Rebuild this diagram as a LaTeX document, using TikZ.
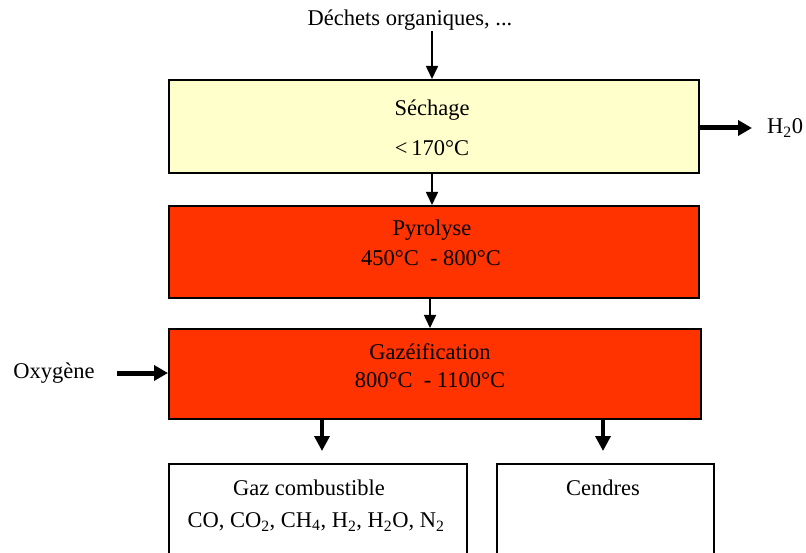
\documentclass[tikz,border=0pt]{standalone}
\usepackage{fontspec}
\setmainfont{Liberation Serif}
\usetikzlibrary{arrows.meta}
\definecolor{dryfill}{HTML}{FFFFCC}
\definecolor{hotfill}{HTML}{FF3300}
\begin{document}
\begin{tikzpicture}[x=1pt,y=-1pt,
  every node/.style={font=\fontsize{22.5}{26}\selectfont, inner sep=0pt},
  stage/.style={draw=black, line width=1.6pt, rectangle, anchor=north west},
  label/.style={anchor=center},
  thin/.style={line width=1.6pt, -{Triangle[width=12pt,length=13pt]}},
  fat/.style={line width=5pt, -{Triangle[width=15pt,length=14pt]}},
  mid/.style={line width=3.5pt, -{Triangle[width=15pt,length=15pt]}}]
  \useasboundingbox (0,0) rectangle (806,553);

  % process stages
  \node[stage, fill=dryfill, minimum width=530pt, minimum height=93pt] (sech) at (168,79) {};
  \node[stage, fill=hotfill, minimum width=530pt, minimum height=92pt] (pyro) at (168,205) {};
  \node[stage, fill=hotfill, minimum width=532pt, minimum height=90pt] (gazf) at (168,328) {};
  \node[stage, fill=white, minimum width=298pt, minimum height=92pt] (gaz) at (168,463) {};
  \node[stage, fill=white, minimum width=217pt, minimum height=90pt] (cend) at (496,463) {};

  % texts
  \node[label] (inT) at (410,20) {Déchets organiques, ...};
  \node[label] (sechA) at (432,110) {Séchage};
  \node[label] (sechB) at (432,148) {<\,170°C};
  \node[label] (pyroA) at (432,230) {Pyrolyse};
  \node[label] (pyroB) at (431,258) {450°C\ \ - 800°C};
  \node[label] (gazfA) at (430,352) {Gazéification};
  \node[label] (gazfB) at (430,380) {800°C\ \ - 1100°C};
  \node[label] (gazA) at (309,488) {Gaz combustible};
  \node[label] (gazB) at (316,522) {CO, CO\textsubscript{2}, CH\textsubscript{4}, H\textsubscript{2}, H\textsubscript{2}O, N\textsubscript{2}};
  \node[label] (cendA) at (603,488) {Cendres};
  \node[label] (oxy) at (54,373) {Oxygène};
  \node[label, anchor=west] (water) at (767,128) {H\textsubscript{2}0};

  % connector end points
  \coordinate (inS) at (432,31);
  \coordinate (s1) at (432,172);
  \coordinate (s2) at (430,297);
  \coordinate (oxS) at (117,373);
  \coordinate (wE) at (752,128);
  \coordinate (outG) at (322,451);
  \coordinate (outC) at (603,451);

  % flows
  \draw[thin] (inS) -- (inS |- sech.north);
  \draw[thin] (s1) -- (s1 |- pyro.north);
  \draw[thin] (s2) -- (s2 |- gazf.north);
  \draw[fat] (oxS) -- (oxS -| gazf.west);
  \draw[fat] (wE -| sech.east) -- (wE);
  \draw[mid] (outG |- gazf.south) -- (outG);
  \draw[mid] (outC |- gazf.south) -- (outC);
\end{tikzpicture}
\end{document}
